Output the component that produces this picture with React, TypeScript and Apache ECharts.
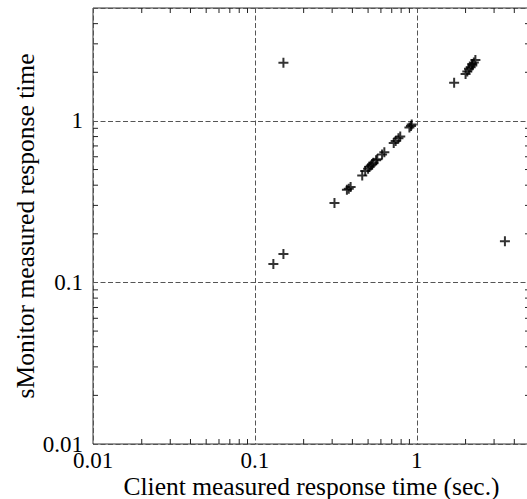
import React, { useEffect, useRef } from "react";
import * as echarts from "echarts";

// Axis ranges (log10 axes)
const X_MIN = 0.01;
const X_MAX = 5;
const Y_MIN = 0.01;
const Y_MAX = 5;

// Decade tick values and their labels
const DECADES = [0.01, 0.1, 1];
const TICK_LABELS = ["0.01", "0.1", "1"];

// Minor tick values (2..9 x decade)
const MINOR_TICKS = [
  0.02, 0.03, 0.04, 0.05, 0.06, 0.07, 0.08, 0.09,
  0.2, 0.3, 0.4, 0.5, 0.6, 0.7, 0.8, 0.9,
  2, 3, 4,
];

// Measurements
const clientTimes = [
  0.13, 0.15, 0.15, 0.31, 0.37, 0.38, 0.39, 0.46, 0.48, 0.5, 0.51, 0.52, 0.53,
  0.54, 0.56, 0.57, 0.61, 0.63, 0.72, 0.74, 0.77, 0.79, 0.9, 0.92, 0.93, 1.7,
  2.0, 2.05, 2.1, 2.15, 2.2, 2.25, 2.3, 2.2, 3.5,
];
const monitorTimes = [
  0.13, 0.15, 2.29, 0.31, 0.375, 0.38, 0.39, 0.46, 0.49, 0.505, 0.52, 0.53,
  0.54, 0.55, 0.57, 0.58, 0.62, 0.64, 0.73, 0.75, 0.78, 0.8, 0.91, 0.93, 0.95,
  1.72, 1.95, 2.02, 2.1, 2.15, 2.25, 2.3, 2.38, 2.2, 0.18,
];

const X_TITLE = "Client measured response time (sec.)";
const Y_TITLE = "sMonitor measured response time";

const FONT = '"Liberation Serif", "Times New Roman", serif';
const PLUS = "path://M4,0H6V10H4Z M0,4H10V6H0Z";

function decadeLabel(v: number): string {
  const i = DECADES.findIndex(
    (d) => Math.abs(Math.log10(v) - Math.log10(d)) < 1e-6
  );
  return i >= 0 ? TICK_LABELS[i] : "";
}

export default function App() {
  const ref = useRef<HTMLDivElement>(null);
  useEffect(() => {
    if (!ref.current) return;
    const chart = echarts.init(ref.current, null, { renderer: "svg" });
    const tickStyle = { stroke: "#222", lineWidth: 1 };
    const gridLine = {
      show: true,
      lineStyle: { color: "#555", width: 1, type: [5, 2.5] as any },
    };
    chart.setOption({
      animation: false,
      backgroundColor: "#fff",
      grid: {
        left: 93,
        right: -3,
        top: 8,
        bottom: 55,
        show: true,
        borderColor: "#333",
        borderWidth: 1,
        backgroundColor: "transparent",
        outerBoundsMode: "none",
        containLabel: false,
      },
      xAxis: {
        type: "log",
        logBase: 10,
        min: X_MIN,
        max: X_MAX,
        name: X_TITLE,
        nameLocation: "middle",
        nameGap: 29,
        nameMoveOverlap: false,
        nameTextStyle: { fontFamily: FONT, fontSize: 25.5, color: "#000" },
        axisLine: { show: false },
        axisTick: { show: false },
        axisLabel: {
          formatter: decadeLabel,
          fontFamily: FONT,
          fontSize: 23,
          color: "#000",
          margin: 5,
        },
        splitLine: gridLine,
      },
      yAxis: {
        type: "log",
        logBase: 10,
        min: Y_MIN,
        max: Y_MAX,
        name: Y_TITLE,
        nameLocation: "middle",
        nameGap: 55,
        nameMoveOverlap: false,
        nameRotate: 90,
        nameTextStyle: { fontFamily: FONT, fontSize: 25.5, color: "#000" },
        axisLine: { show: false },
        axisTick: { show: false },
        axisLabel: {
          formatter: decadeLabel,
          fontFamily: FONT,
          fontSize: 23,
          color: "#000",
          margin: 10,
        },
        splitLine: gridLine,
      },
      series: [
        {
          type: "scatter",
          data: clientTimes.map((c, i) => [c, monitorTimes[i]]),
          symbol: PLUS,
          symbolSize: 10,
          itemStyle: { color: "#000" },
          z: 5,
        },
        {
          type: "custom",
          clip: false,
          silent: true,
          data: MINOR_TICKS.filter((v) => v > X_MIN && v < X_MAX).map((v) => [
            v,
            Y_MIN,
          ]),
          renderItem: (_p: any, api: any) => {
            const v = api.value(0);
            const b = api.coord([v, Y_MIN]);
            const t = api.coord([v, Y_MAX]);
            return {
              type: "group",
              children: [
                {
                  type: "line",
                  shape: { x1: b[0], y1: b[1], x2: b[0], y2: b[1] - 5 },
                  style: tickStyle,
                },
                {
                  type: "line",
                  shape: { x1: t[0], y1: t[1], x2: t[0], y2: t[1] + 5 },
                  style: tickStyle,
                },
              ],
            };
          },
        },
        {
          type: "custom",
          clip: false,
          silent: true,
          data: MINOR_TICKS.filter((v) => v > Y_MIN && v < Y_MAX).map((v) => [
            X_MIN,
            v,
          ]),
          renderItem: (_p: any, api: any) => {
            const v = api.value(1);
            const l = api.coord([X_MIN, v]);
            const r = api.coord([X_MAX, v]);
            return {
              type: "group",
              children: [
                {
                  type: "line",
                  shape: { x1: l[0], y1: l[1], x2: l[0] + 5, y2: l[1] },
                  style: tickStyle,
                },
                {
                  type: "line",
                  shape: { x1: r[0], y1: r[1], x2: r[0] - 5, y2: r[1] },
                  style: tickStyle,
                },
              ],
            };
          },
        },
      ],
    });
    return () => chart.dispose();
  }, []);
  return (
    <div
      ref={ref}
      style={{ position: "absolute", left: 0, top: 0, width: 527, height: 499 }}
    />
  );
}
